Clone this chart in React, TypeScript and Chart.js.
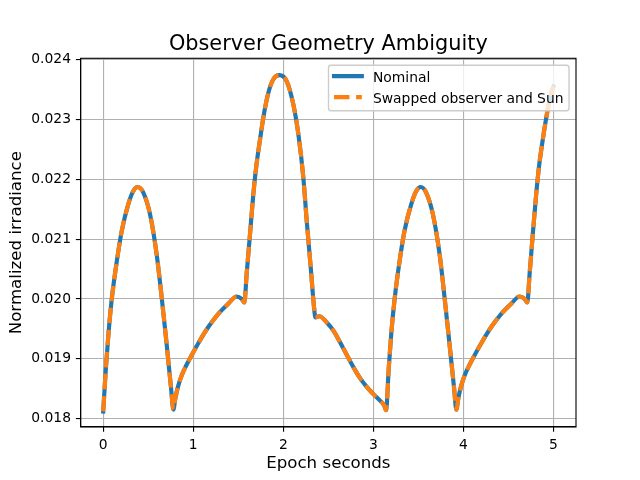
import { useEffect, useRef } from 'react';
import { Chart, registerables } from 'chart.js';

Chart.register(...registerables);

// ---- data ----
const epochSeconds = [
  0.0, 0.03, 0.06, 0.095, 0.15, 0.205, 0.278, 0.333, 0.382, 0.444,
  0.519, 0.593, 0.649, 0.704, 0.752, 0.78, 0.8, 0.83, 0.871, 0.926,
  0.982, 1.056, 1.167, 1.278, 1.389, 1.482, 1.537, 1.567, 1.593, 1.63,
  1.667, 1.7, 1.74, 1.778, 1.833, 1.889, 1.956, 2.037, 2.111, 2.167,
  2.222, 2.26, 2.304, 2.341, 2.356, 2.4, 2.48, 2.556, 2.667, 2.778,
  2.85, 2.926, 3.0, 3.074, 3.12, 3.141, 3.171, 3.2, 3.236, 3.29,
  3.345, 3.42, 3.475, 3.527, 3.585, 3.66, 3.735, 3.79, 3.845, 3.895,
  3.922, 3.942, 3.972, 4.013, 4.068, 4.124, 4.198, 4.309, 4.42, 4.531,
  4.624, 4.679, 4.709, 4.735, 4.77, 4.808, 4.84, 4.88, 4.92, 4.975,
  5.0,
];

const nominalIrradiance = [
  0.01812, 0.01885, 0.01945, 0.02, 0.02062, 0.02113, 0.02158, 0.0218, 0.02187, 0.02178,
  0.02142, 0.02075, 0.02003, 0.01925, 0.01853, 0.01815, 0.01833, 0.01853, 0.01872, 0.0189,
  0.01906, 0.01926, 0.01953, 0.01975, 0.01992, 0.02004, 0.02, 0.01994, 0.02042, 0.02108,
  0.02175, 0.02222, 0.02265, 0.02303, 0.02344, 0.02367, 0.02374, 0.02364, 0.02325, 0.02275,
  0.02203, 0.0213, 0.02053, 0.01986, 0.01969, 0.01971, 0.01961, 0.01947, 0.01917, 0.01886,
  0.01868, 0.01853, 0.01841, 0.0183, 0.01822, 0.01814, 0.01885, 0.01945, 0.02, 0.02062,
  0.02113, 0.02158, 0.0218, 0.02187, 0.02178, 0.02142, 0.02075, 0.02003, 0.01925, 0.01853,
  0.01815, 0.01833, 0.01853, 0.01872, 0.0189, 0.01906, 0.01926, 0.01953, 0.01975, 0.01992,
  0.02004, 0.02, 0.01994, 0.02042, 0.02108, 0.02175, 0.02222, 0.02265, 0.02303, 0.02344,
  0.02355,
];

const swappedIrradiance = [
  0.01812, 0.01885, 0.01945, 0.02, 0.02062, 0.02113, 0.02158, 0.0218, 0.02187, 0.02178,
  0.02142, 0.02075, 0.02003, 0.01925, 0.01853, 0.01815, 0.01833, 0.01853, 0.01872, 0.0189,
  0.01906, 0.01926, 0.01953, 0.01975, 0.01992, 0.02004, 0.02, 0.01994, 0.02042, 0.02108,
  0.02175, 0.02222, 0.02265, 0.02303, 0.02344, 0.02367, 0.02374, 0.02364, 0.02325, 0.02275,
  0.02203, 0.0213, 0.02053, 0.01986, 0.01969, 0.01971, 0.01961, 0.01947, 0.01917, 0.01886,
  0.01868, 0.01853, 0.01841, 0.0183, 0.01822, 0.01814, 0.01885, 0.01945, 0.02, 0.02062,
  0.02113, 0.02158, 0.0218, 0.02187, 0.02178, 0.02142, 0.02075, 0.02003, 0.01925, 0.01853,
  0.01815, 0.01833, 0.01853, 0.01872, 0.0189, 0.01906, 0.01926, 0.01953, 0.01975, 0.01992,
  0.02004, 0.02, 0.01994, 0.02042, 0.02108, 0.02175, 0.02222, 0.02265, 0.02303, 0.02344,
  0.02355,
];

const chartTitle = 'Observer Geometry Ambiguity';
const xAxisLabel = 'Epoch seconds';
const yAxisLabel = 'Normalized irradiance';
const seriesLabels = ['Nominal', 'Swapped observer and Sun'];
const xTickValues = [0, 1, 2, 3, 4, 5];
const yTickValues = [0.018, 0.019, 0.02, 0.021, 0.022, 0.023, 0.024];

const PT = 100 / 72;
const FONT = '"DejaVu Sans", sans-serif';
const BLUE = '#1f77b4';
const ORANGE = '#ff7f0e';
const LINE_W = 3 * PT;
const DASH = [3.7 * 3 * PT, 1.6 * 3 * PT];

export default function App() {
  const ref = useRef<HTMLCanvasElement>(null);

  useEffect(() => {
    const canvas = ref.current;
    if (!canvas) return;
    Chart.defaults.font.family = FONT;
    Chart.defaults.color = '#000';

    const toPoints = (ys: number[]) => epochSeconds.map((x, i) => ({ x, y: ys[i] }));

    const decor = {
      id: 'mplDecor',
      afterDraw(chart: any) {
        const { ctx, chartArea: a } = chart;
        ctx.save();
        // axes frame (all four spines)
        ctx.strokeStyle = '#000';
        ctx.lineWidth = 0.8 * PT;
        ctx.setLineDash([]);
        ctx.strokeRect(a.left, a.top, a.right - a.left, a.bottom - a.top);

        // title
        ctx.fillStyle = '#000';
        ctx.font = `${15 * PT}px ${FONT}`;
        ctx.textAlign = 'center';
        ctx.textBaseline = 'alphabetic';
        ctx.fillText(chartTitle, (a.left + a.right) / 2, a.top - 6 * PT);

        // legend
        const fs = 10 * PT;
        ctx.font = `${fs}px ${FONT}`;
        const textW = Math.max(...seriesLabels.map((l) => ctx.measureText(l).width));
        const boxW = 0.8 * fs + 2.8 * fs + textW;
        const boxH = 45.5;
        const right = a.right - 0.5 * fs;
        const top = a.top + 0.5 * fs;
        const left = right - boxW;
        const r = 0.2 * fs;
        ctx.beginPath();
        ctx.moveTo(left + r, top);
        ctx.arcTo(right, top, right, top + boxH, r);
        ctx.arcTo(right, top + boxH, left, top + boxH, r);
        ctx.arcTo(left, top + boxH, left, top, r);
        ctx.arcTo(left, top, right, top, r);
        ctx.closePath();
        ctx.fillStyle = 'rgba(255,255,255,0.8)';
        ctx.fill();
        ctx.strokeStyle = '#cccccc';
        ctx.lineWidth = 1 * PT;
        ctx.stroke();

        const hx0 = left + 0.4 * fs;
        const hx1 = hx0 + 2 * fs;
        const tx = hx1 + 0.8 * fs;
        const colors = [BLUE, ORANGE];
        seriesLabels.forEach((label, i) => {
          const cy = top + 10.8 + i * 21;
          ctx.beginPath();
          ctx.strokeStyle = colors[i];
          ctx.lineWidth = LINE_W;
          if (i === 0) {
            ctx.setLineDash([]);
            ctx.lineCap = 'square';
          } else {
            ctx.setLineDash(DASH);
            ctx.lineCap = 'butt';
          }
          ctx.moveTo(hx0, cy);
          ctx.lineTo(hx1, cy);
          ctx.stroke();
          ctx.setLineDash([]);
          ctx.fillStyle = '#000';
          ctx.textAlign = 'left';
          ctx.textBaseline = 'alphabetic';
          ctx.fillText(label, tx, cy + 6);
        });
        ctx.restore();
      },
    };

    const chart = new Chart(canvas, {
      type: 'line',
      data: {
        datasets: [
          {
            label: seriesLabels[0],
            data: toPoints(nominalIrradiance),
            borderColor: BLUE,
            backgroundColor: BLUE,
            borderWidth: LINE_W,
            borderCapStyle: 'square',
            borderJoinStyle: 'round',
            pointRadius: 0,
            cubicInterpolationMode: 'monotone',
            fill: false,
            order: 1,
          },
          {
            label: seriesLabels[1],
            data: toPoints(swappedIrradiance),
            borderColor: ORANGE,
            backgroundColor: ORANGE,
            borderWidth: LINE_W,
            borderDash: DASH,
            borderCapStyle: 'butt',
            borderJoinStyle: 'round',
            pointRadius: 0,
            cubicInterpolationMode: 'monotone',
            fill: false,
            order: 0,
          },
        ],
      },
      options: {
        responsive: false,
        animation: false,
        events: [],
        layout: { padding: { top: 58.3, right: 64, bottom: 0, left: 0 } },
        plugins: {
          legend: { display: false },
          title: { display: false },
          tooltip: { enabled: false },
        },
        scales: {
          x: {
            type: 'linear',
            min: -0.25,
            max: 5.25,
            afterBuildTicks: (s: any) => {
              s.ticks = xTickValues.map((v) => ({ value: v }));
            },
            afterFit: (s: any) => {
              s.height = 53;
            },
            ticks: {
              callback: (v: any) => String(v),
              color: '#000',
              font: { size: 10 * PT },
              padding: 3.5 * PT,
              maxRotation: 0,
            },
            grid: {
              color: '#b0b0b0',
              lineWidth: 0.8 * PT,
              tickColor: '#000',
              tickLength: 3.5 * PT,
              tickWidth: 0.8 * PT,
            },
            border: { display: true, color: '#000', width: 0.8 * PT },
            title: {
              display: true,
              text: xAxisLabel,
              color: '#000',
              font: { size: 12 * PT },
              padding: { top: 0, bottom: 6 },
            },
          },
          y: {
            type: 'linear',
            min: 0.01786,
            max: 0.02402,
            afterBuildTicks: (s: any) => {
              s.ticks = yTickValues.map((v) => ({ value: v }));
            },
            afterFit: (s: any) => {
              s.width = 80.7;
            },
            ticks: {
              callback: (v: any) => Number(v).toFixed(3),
              color: '#000',
              font: { size: 10 * PT },
              padding: 3.5 * PT,
            },
            grid: {
              color: '#b0b0b0',
              lineWidth: 0.8 * PT,
              tickColor: '#000',
              tickLength: 3.5 * PT,
              tickWidth: 0.8 * PT,
            },
            border: { display: true, color: '#000', width: 0.8 * PT },
            title: {
              display: true,
              text: yAxisLabel,
              color: '#000',
              font: { size: 12 * PT },
              padding: { top: 7, bottom: 0 },
            },
          },
        },
      },
      plugins: [decor],
    } as any);

    return () => {
      chart.destroy();
    };
  }, []);

  return (
    <div style={{ position: 'fixed', left: 0, top: 0, width: 640, height: 480, background: '#fff' }}>
      <canvas ref={ref} width={640} height={480} style={{ display: 'block', width: 640, height: 480 }} />
    </div>
  );
}
